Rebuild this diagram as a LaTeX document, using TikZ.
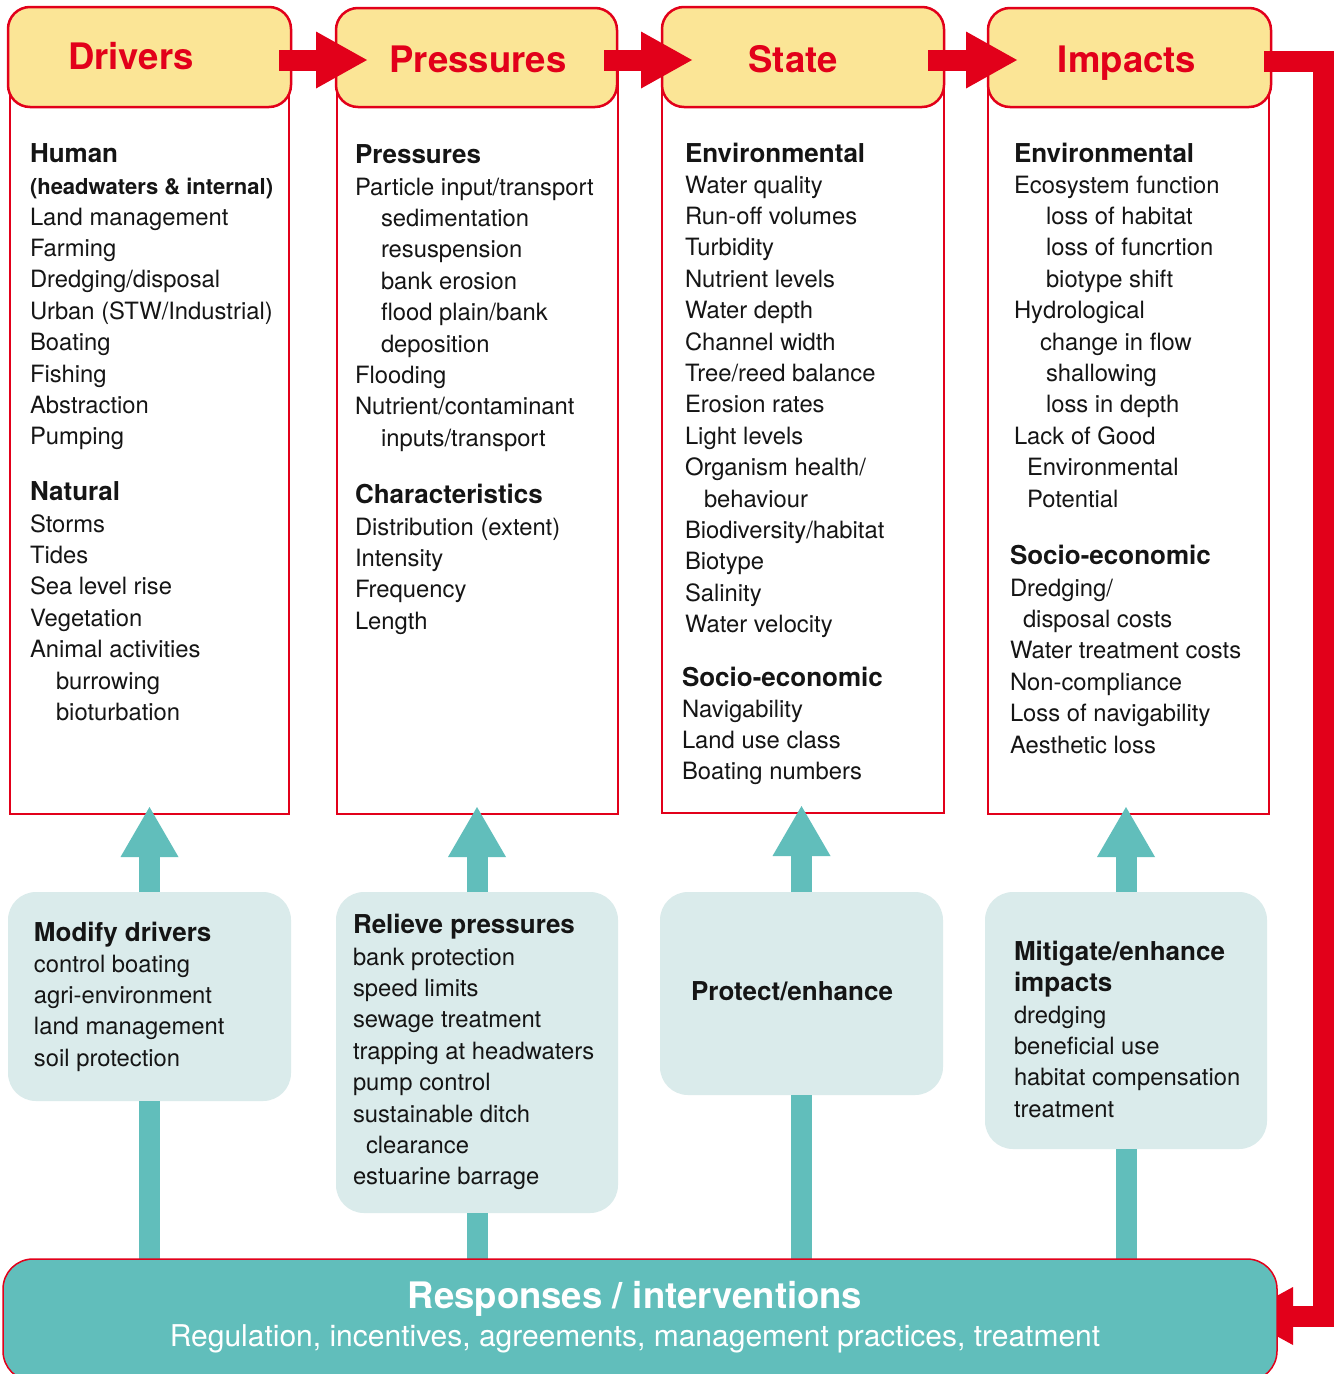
\documentclass[tikz,border=0pt]{standalone}
\usepackage{fontspec}
\setmainfont{TeX Gyre Heros}
\usetikzlibrary{arrows.meta,calc}
\definecolor{dsred}{HTML}{E2001A}
\definecolor{dsyellow}{HTML}{FBE596}
\definecolor{dsteal}{HTML}{61BEBB}
\definecolor{dslight}{HTML}{DAEBEB}
\definecolor{dstext}{HTML}{151515}
\newcommand\ind[1]{\hspace*{#1pt}}
\newcommand\txtblock[5]{\foreach \itm [count=\i] in {#5} {\node[#4] (#1-\i) at (#2,{#3+31.4*(\i-1)}) {\itm};}}
\pgfdeclarelayer{fg}
\pgfsetlayers{main,fg}
\begin{document}
\begin{tikzpicture}[x=1pt,y=-1pt,
 every node/.style={inner sep=0pt, outer sep=0pt},
 body/.style={anchor=base west, text=dstext, font=\fontsize{23.8}{28}\selectfont},
 sub/.style={anchor=base west, text=dstext, font=\fontsize{26}{30}\selectfont\bfseries},
 header/.style={anchor=north west, draw=dsred, line width=2.5pt, fill=dsyellow, rounded corners=22pt},
 title/.style={anchor=base, text=dsred, font=\fontsize{36.5}{40}\selectfont\bfseries},
 column/.style={anchor=north west, draw=dsred, line width=2pt, fill=white},
 lightbox/.style={anchor=north west, fill=dslight, rounded corners=28pt},
 redarrow/.style={draw=dsred, line width=21pt, -{Triangle[width=57pt,length=51pt,line width=0pt]}},
 redconn/.style={draw=dsred, line width=21pt, -{Triangle[width=58pt,length=53pt,line width=0pt]}},
 tealarrow/.style={draw=dsteal, line width=21pt, -{Triangle[width=58pt,length=50pt,line width=0pt]}},
 tealline/.style={draw=dsteal, line width=21pt},
]
\useasboundingbox (0,0) rectangle (1337,1374);
\fill[white] (0,0) rectangle (1337,1374);

% responses box (on top layer)
\begin{pgfonlayer}{fg}
\node[anchor=north west, draw=dsred, line width=1.5pt, fill=dsteal, rounded corners=30pt,
      minimum width=1274pt, minimum height=122pt] (resp) at (3,1259) {};
\node[anchor=base, text=white, font=\fontsize{36.5}{40}\selectfont\bfseries] (rt) at (635,1308) {Responses / interventions};
\node[anchor=base, text=white, font=\fontsize{30}{32}\selectfont] (rs) at (635,1346) {Regulation, incentives, agreements, management practices, treatment};
\end{pgfonlayer}

% columns
\node[column, minimum width=279pt, minimum height=754pt] (col1) at (10,60) {};
\node[column, minimum width=281pt, minimum height=754pt] (col2) at (337,60) {};
\node[column, minimum width=282pt, minimum height=753pt] (col3) at (662,60) {};
\node[column, minimum width=281pt, minimum height=754pt] (col4) at (988,60) {};

% headers
\node[header, minimum width=283pt, minimum height=100pt] (drv) at (8,7) {};
\node[header, minimum width=281pt, minimum height=99pt] (prs) at (336,8) {};
\node[header, minimum width=282pt, minimum height=100pt] (sta) at (662,7) {};
\node[header, minimum width=283pt, minimum height=99pt] (imp) at (988,8) {};
\node[title] (drvT) at (131,69) {Drivers};
\node[title] (prsT) at (478,72) {Pressures};
\node[title] (staT) at (793,72) {State};
\node[title] (impT) at (1127,72) {Impacts};

% red arrows
\draw[redarrow] ([xshift=-12pt,yshift=-3pt]drv.east) -- ([xshift=31pt,yshift=-2.5pt]prs.west);
\draw[redarrow] ([xshift=-13pt,yshift=-2.5pt]prs.east) -- ([xshift=30pt,yshift=-3pt]sta.west);
\draw[redarrow] ([xshift=-16pt,yshift=-3pt]sta.east) -- ([xshift=29pt,yshift=-2.5pt]imp.west);
\coordinate (rc) at (1323.5,1316);
\draw[redconn] ([xshift=-7pt,yshift=-3.5pt]imp.east) -| (rc) -- ($(resp.east |- rc)+(-37,0)$);

% light boxes
\node[lightbox, minimum width=283pt, minimum height=209pt] (mod) at (8,892) {};
\node[lightbox, minimum width=282pt, minimum height=321pt] (rel) at (336,892) {};
\node[lightbox, minimum width=283pt, minimum height=203pt] (pro) at (660,892) {};
\node[lightbox, minimum width=282pt, minimum height=257pt] (mit) at (985,892) {};

% teal connectors
\draw[tealarrow] (mod.north) -- ($(mod.north |- col1.south)+(0,-7)$);
\draw[tealarrow] (rel.north) -- ($(rel.north |- col2.south)+(0,-7)$);
\draw[tealarrow] (pro.north) -- ($(pro.north |- col3.south)+(0,-7)$);
\draw[tealarrow] (mit.north) -- ($(mit.north |- col4.south)+(0,-7)$);
\draw[tealline] (mod.south) -- (mod.south |- resp.north);
\draw[tealline] (rel.south) -- (rel.south |- resp.north);
\draw[tealline] (pro.south) -- (pro.south |- resp.north);
\draw[tealline] (mit.south) -- (mit.south |- resp.north);

% column 1
\node[sub] (h1) at (30,162) {Human};
\node[sub, font=\fontsize{22}{26}\selectfont\bfseries] (h1b) at (30,194) {(headwaters \& internal)};
\txtblock{c1a}{30}{225}{body}{Land management,Farming,Dredging/disposal,Urban (STW/Industrial),Boating,Fishing,Abstraction,Pumping}
\node[sub] (h2) at (30,500) {Natural};
\txtblock{c1b}{30}{532}{body}{Storms,Tides,Sea level rise,Vegetation,Animal activities,\ind{26}burrowing,\ind{26}bioturbation}

% column 2
\node[sub] (h3) at (355,163) {Pressures};
\txtblock{c2a}{355}{195}{body}{Particle input/transport,\ind{26}sedimentation,\ind{26}resuspension,\ind{26}bank erosion,\ind{26}flood plain/bank,\ind{26}deposition,Flooding,Nutrient/contaminant,\ind{26}inputs/transport}
\node[sub] (h4) at (355,503) {Characteristics};
\txtblock{c2b}{355}{535}{body}{Distribution (extent),Intensity,Frequency,Length}

% column 3
\node[sub] (h5) at (685,162) {Environmental};
\txtblock{c3a}{685}{193}{body}{Water quality,Run-off volumes,Turbidity,Nutrient levels,Water depth,Channel width,Tree/reed balance,Erosion rates,Light levels,Organism health/,\ind{19}behaviour,Biodiversity/habitat,Biotype,Salinity,Water velocity}
\node[sub] (h6) at (682,686) {Socio-economic};
\txtblock{c3b}{682}{717}{body}{Navigability,Land use class,Boating numbers}

% column 4
\node[sub] (h7) at (1014,162) {Environmental};
\txtblock{c4a}{1014}{193}{body}{Ecosystem function,\ind{32}loss of habitat,\ind{32}loss of funcrtion,\ind{32}biotype shift,Hydrological,\ind{26}change in flow,\ind{32}shallowing,\ind{32}loss in depth,Lack of Good,\ind{13}Environmental,\ind{13}Potential}
\node[sub] (h8) at (1010,564) {Socio-economic};
\txtblock{c4b}{1010}{596}{body}{Dredging/,\ind{13}disposal costs,Water treatment costs,Non-compliance,Loss of navigability,Aesthetic loss}

% response sub-boxes text
\node[sub] (b1h) at (34,941) {Modify drivers};
\txtblock{b1}{34}{972}{body}{control boating,agri-environment,land management,soil protection}
\node[sub] (b2h) at (353,933) {Relieve pressures};
\txtblock{b2}{353}{965}{body}{bank protection,speed limits,sewage treatment,trapping at headwaters,pump control,sustainable ditch,\ind{13}clearance,estuarine barrage}
\node[sub, anchor=base] (b3h) at (792,1000) {Protect/enhance};
\node[sub] (b4h) at (1014,960) {Mitigate/enhance};
\node[sub] (b4h2) at (1014,991) {impacts};
\txtblock{b4}{1014}{1023}{body}{dredging,beneficial use,habitat compensation,treatment}
\end{tikzpicture}
\end{document}
